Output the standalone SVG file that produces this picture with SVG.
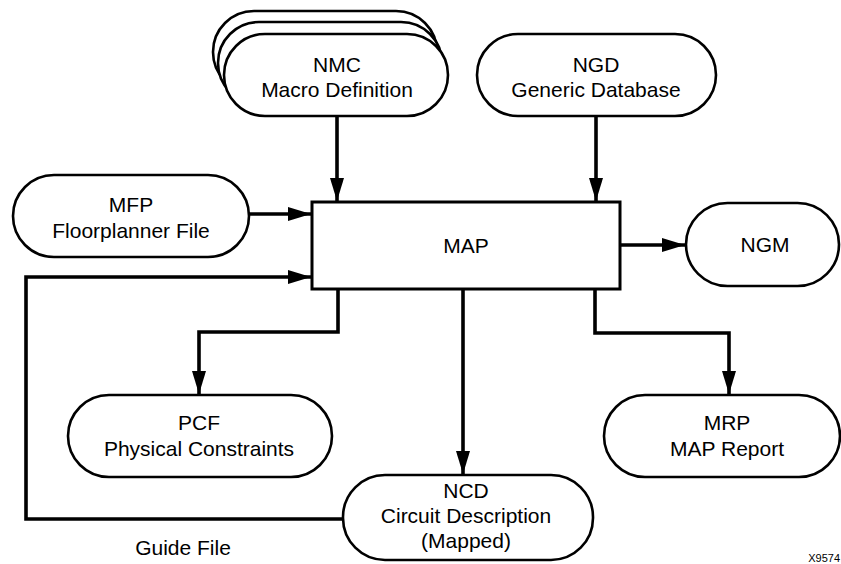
<svg xmlns="http://www.w3.org/2000/svg" width="841" height="564" viewBox="0 0 841 564">
<style>
.node{fill:#fff;stroke:#000;stroke-width:2.6}
.t{font-family:"Liberation Sans",Arial,sans-serif;font-size:21px;fill:#000;text-anchor:middle}
.c{fill:none;stroke:#000;stroke-width:3.6;stroke-linejoin:miter}
</style>
<defs>
<marker id="ah" markerWidth="24" markerHeight="14" refX="23" refY="7" orient="auto" markerUnits="userSpaceOnUse">
<path d="M0,0 L23,7 L0,14 Z" fill="#000"/>
</marker>
</defs>
<rect width="841" height="564" fill="#fff"/>
<g id="connectors">
<path class="c" d="M337,116 V201" marker-end="url(#ah)"/>
<path class="c" d="M596,116 V201" marker-end="url(#ah)"/>
<path class="c" d="M249,214 H311" marker-end="url(#ah)"/>
<path class="c" d="M343,519 H26 V277 H311" marker-end="url(#ah)"/>
<path class="c" d="M620,245 H685" marker-end="url(#ah)"/>
<path class="c" d="M338,289 V332 H199 V394" marker-end="url(#ah)"/>
<path class="c" d="M463,289 V474" marker-end="url(#ah)"/>
<path class="c" d="M595,289 V333 H729 V394" marker-end="url(#ah)"/>
</g>
<g id="nmc">
<rect class="node" x="213" y="11" width="224" height="82" rx="41"/>
<rect class="node" x="218" y="22" width="224" height="82" rx="41"/>
<rect class="node" x="224" y="34" width="224" height="82" rx="41"/>
<text class="t" x="337" y="72">NMC</text>
<text class="t" x="337" y="97">Macro Definition</text>
</g>
<g id="ngd">
<rect class="node" x="477" y="34" width="239" height="82" rx="41"/>
<text class="t" x="596" y="72">NGD</text>
<text class="t" x="596" y="97">Generic Database</text>
</g>
<g id="mfp">
<rect class="node" x="13" y="175" width="236" height="82" rx="41"/>
<text class="t" x="131" y="212">MFP</text>
<text class="t" x="131" y="238">Floorplanner File</text>
</g>
<g id="map">
<rect x="312" y="202" width="308" height="87" fill="#fff" stroke="#000" stroke-width="3"/>
<text class="t" x="466" y="253">MAP</text>
</g>
<g id="ngm">
<rect class="node" x="686" y="203" width="153" height="83" rx="41.5"/>
<text class="t" x="765" y="252">NGM</text>
</g>
<g id="pcf">
<rect class="node" x="68" y="395" width="264" height="82" rx="41"/>
<text class="t" x="199" y="430">PCF</text>
<text class="t" x="199" y="456">Physical Constraints</text>
</g>
<g id="ncd">
<rect class="node" x="343" y="475" width="250" height="85" rx="42"/>
<text class="t" x="466" y="498">NCD</text>
<text class="t" x="466" y="523">Circuit Description</text>
<text class="t" x="466" y="548">(Mapped)</text>
</g>
<g id="mrp">
<rect class="node" x="604" y="395" width="236" height="82" rx="41"/>
<text class="t" x="727" y="430">MRP</text>
<text class="t" x="727" y="456">MAP Report</text>
</g>
<g id="labels">
<text class="t" x="183" y="555">Guide File</text>
<text x="840" y="562" font-family="Liberation Sans,Arial,sans-serif" font-size="11" text-anchor="end">X9574</text>
</g>
</svg>
